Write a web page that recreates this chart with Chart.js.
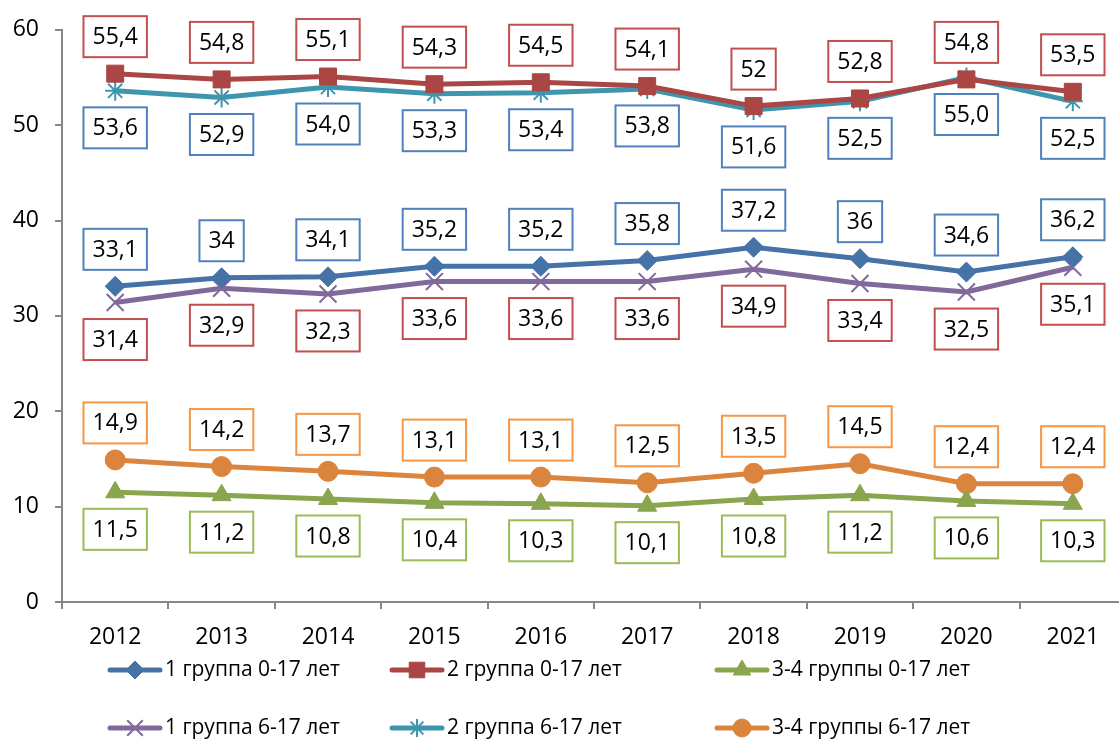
<!DOCTYPE html>
<html>
<head>
<meta charset="utf-8">
<script src="https://cdn.jsdelivr.net/npm/chart.js@4.4.1/dist/chart.umd.min.js"></script>
<style>
    html, body { margin: 0; padding: 0; background: #fff; overflow: hidden; }
    #chart { display: block; }
</style>
</head>
<body>
<canvas id="chart" width="1140" height="740" style="width:1140px;height:740px"></canvas>
<script>
// Chart data
const years = ['2012', '2013', '2014', '2015', '2016', '2017', '2018', '2019', '2020', '2021'];
const yTicks = [0, 10, 20, 30, 40, 50, 60];

const group1Age0 = [33.1, 34, 34.1, 35.2, 35.2, 35.8, 37.2, 36, 34.6, 36.2];
const group2Age0 = [55.4, 54.8, 55.1, 54.3, 54.5, 54.1, 52, 52.8, 54.8, 53.5];
const group34Age0 = [11.5, 11.2, 10.8, 10.4, 10.3, 10.1, 10.8, 11.2, 10.6, 10.3];
const group1Age6 = [31.4, 32.9, 32.3, 33.6, 33.6, 33.6, 34.9, 33.4, 32.5, 35.1];
const group2Age6 = [53.6, 52.9, 54.0, 53.3, 53.4, 53.8, 51.6, 52.5, 55.0, 52.5];
const group34Age6 = [14.9, 14.2, 13.7, 13.1, 13.1, 12.5, 13.5, 14.5, 12.4, 12.4];

const FONT = "'Open Sans', sans-serif";

// Build one line series
function makeSeries(label, data, color, pointStyle, radius, labelSide, labelBorder, fixed) {
    return {
        label: label,
        data: data,
        borderColor: color,
        backgroundColor: color,
        borderWidth: 5,
        pointStyle: pointStyle,
        pointRadius: radius,
        pointHoverRadius: radius,
        pointBorderWidth: (pointStyle === 'crossRot' || pointStyle === 'star') ? 2 : 1,
        pointBorderColor: color,
        pointBackgroundColor: color,
        tension: 0,
        fill: false,
        labelSide: labelSide,
        labelBorder: labelBorder,
        labelFixed: fixed
    };
}

// Format value like "55,4"
function formatValue(value, fixed) {
    const text = fixed ? value.toFixed(1) : String(value);
    return text.replace('.', ',');
}

// Boxed value labels
const boxLabelsPlugin = {
    id: 'boxLabels',
    afterDatasetsDraw(chart) {
        const ctx = chart.ctx;
        ctx.save();
        ctx.font = '23px ' + FONT;
        ctx.textAlign = 'center';
        ctx.textBaseline = 'middle';
        chart.data.datasets.forEach((ds, i) => {
            const meta = chart.getDatasetMeta(i);
            meta.data.forEach((pt, j) => {
                const text = formatValue(ds.data[j], ds.labelFixed);
                const w = ctx.measureText(text).width + 18;
                const h = 41;
                const cy = ds.labelSide === 'above' ? pt.y - 37 : pt.y + 37;
                ctx.fillStyle = '#ffffff';
                ctx.fillRect(pt.x - w / 2, cy - h / 2, w, h);
                ctx.lineWidth = 2;
                ctx.strokeStyle = ds.labelBorder;
                ctx.strokeRect(pt.x - w / 2, cy - h / 2, w, h);
                ctx.fillStyle = '#000000';
                ctx.fillText(text, pt.x, cy + 1);
            });
        });
        ctx.restore();
    }
};

// Excel-like legend: two rows, line + marker
const legendPlugin = {
    id: 'excelLegend',
    afterDraw(chart) {
        const ctx = chart.ctx;
        const cols = [110, 392, 717];
        const rows = [670, 728];
        ctx.save();
        ctx.font = '21px ' + FONT;
        ctx.textBaseline = 'middle';
        ctx.textAlign = 'left';
        chart.data.datasets.forEach((ds, i) => {
            const x = cols[i % 3];
            const y = rows[Math.floor(i / 3)];
            ctx.strokeStyle = ds.borderColor;
            ctx.lineWidth = 5;
            ctx.lineCap = 'round';
            ctx.beginPath();
            ctx.moveTo(x, y);
            ctx.lineTo(x + 50, y);
            ctx.stroke();
            ctx.lineCap = 'butt';
            ctx.fillStyle = ds.pointBackgroundColor;
            ctx.strokeStyle = ds.pointBorderColor;
            ctx.lineWidth = ds.pointBorderWidth;
            Chart.helpers.drawPoint(ctx, { pointStyle: ds.pointStyle, radius: ds.pointRadius - 1, rotation: 0, borderWidth: ds.pointBorderWidth }, x + 25, y);
            ctx.fillStyle = '#000000';
            ctx.fillText(ds.label, x + 55, y);
        });
        ctx.restore();
    }
};

// Setup Chart
function setupChart() {
    const ctx = document.getElementById('chart');
    new Chart(ctx, {
        type: 'line',
        data: {
            labels: years,
            datasets: [
                makeSeries('1 группа 0-17 лет', group1Age0, '#4572A7', 'rectRot', 10, 'above', '#4F81BD', false),
                makeSeries('2 группа 0-17 лет', group2Age0, '#AA4643', 'rect', 12, 'above', '#C0504D', false),
                makeSeries('3-4 группы 0-17 лет', group34Age0, '#89A54E', 'triangle', 11, 'below', '#9BBB59', false),
                makeSeries('1 группа 6-17 лет', group1Age6, '#80699B', 'crossRot', 12, 'below', '#C0504D', false),
                makeSeries('2 группа 6-17 лет', group2Age6, '#3D96AE', 'star', 10, 'below', '#4F81BD', true),
                makeSeries('3-4 группы 6-17 лет', group34Age6, '#DB843D', 'circle', 10, 'above', '#F79646', false)
            ]
        },
        options: {
            responsive: false,
            animation: false,
            layout: {
                padding: { top: 28, right: 8, bottom: 90, left: 0 }
            },
            plugins: {
                legend: { display: false },
                tooltip: { enabled: false }
            },
            scales: {
                x: {
                    offset: true,
                    grid: {
                        offset: true,
                        drawOnChartArea: false,
                        drawTicks: true,
                        tickLength: 7,
                        color: '#868686',
                        lineWidth: 2
                    },
                    border: { color: '#868686', width: 2 },
                    ticks: {
                        color: '#000000',
                        font: { family: FONT, size: 23 },
                        padding: 15,
                        maxRotation: 0
                    },
                    afterFit(scale) { scale.height = 48; }
                },
                y: {
                    min: 0,
                    max: 60,
                    afterBuildTicks(scale) {
                        scale.ticks = yTicks.map(v => ({ value: v }));
                    },
                    grid: {
                        drawOnChartArea: false,
                        drawTicks: true,
                        tickLength: 7,
                        color: '#868686',
                        lineWidth: 2
                    },
                    border: { color: '#868686', width: 2 },
                    ticks: {
                        color: '#000000',
                        font: { family: FONT, size: 23 },
                        padding: 16
                    },
                    afterFit(scale) { scale.width = 62; }
                }
            }
        },
        plugins: [boxLabelsPlugin, legendPlugin]
    });
}

document.addEventListener('DOMContentLoaded', () => {
    setupChart();
});
</script>
</body>
</html>
